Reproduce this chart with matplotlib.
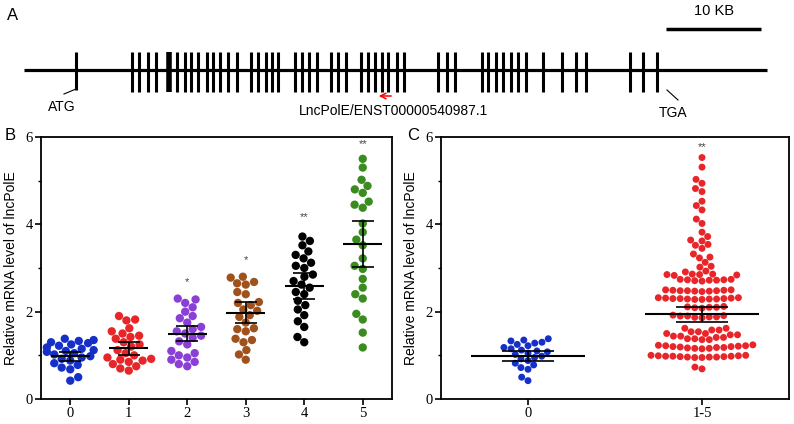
import numpy as np
import pandas as pd
import matplotlib
matplotlib.use('Agg')
import matplotlib.pyplot as plt
import seaborn as sns

# ---- Panel A: gene structure (positions on the diagram scale) ----
exon_pos = [132, 139, 148, 156, 177, 185, 191, 198, 207, 213, 220, 228, 237,
            251, 258, 266, 272, 278, 295, 302, 309, 317, 331, 338, 346,
            361, 368, 375, 382, 388, 397, 404, 438, 447, 455,
            482, 488, 496, 503, 511, 518, 526, 543, 562, 576, 586,
            630, 643, 657]
thick_exon = 169
atg_pos = 76
tga_pos = 667
gene_start, gene_end = 24, 767
scale_bar = (666, 761)

# ---- Panel B: expression by group ----
b_groups = ['0', '1', '2', '3', '4', '5']
g0 = [1.38, 1.35, 1.33, 1.30, 1.28, 1.25, 1.22, 1.18, 1.15, 1.12, 1.10, 1.08,
      1.05, 1.02, 0.98, 0.95, 0.92, 0.88, 0.82, 0.78, 0.72, 0.68, 0.50, 0.42]
g1 = [1.90, 1.82, 1.80, 1.62, 1.55, 1.50, 1.45, 1.42, 1.38, 1.30, 1.25, 1.20,
      1.12, 1.05, 1.00, 0.95, 0.92, 0.90, 0.88, 0.85, 0.80, 0.75, 0.70, 0.65]
g2 = [2.30, 2.28, 2.20, 2.10, 2.00, 1.90, 1.85, 1.75, 1.65, 1.60, 1.55, 1.50,
      1.45, 1.40, 1.32, 1.25, 1.10, 1.05, 1.00, 0.95, 0.90, 0.85, 0.80, 0.75]
g3 = [2.80, 2.78, 2.68, 2.65, 2.62, 2.45, 2.40, 2.22, 2.20, 2.15, 2.05, 2.02,
      1.92, 1.88, 1.75, 1.62, 1.60, 1.55, 1.38, 1.35, 1.30, 1.12, 1.02, 0.90]
g4 = [3.72, 3.62, 3.52, 3.38, 3.30, 3.22, 3.12, 3.05, 3.00, 2.85, 2.80, 2.70,
      2.62, 2.55, 2.45, 2.40, 2.25, 2.15, 2.05, 1.92, 1.78, 1.65, 1.42, 1.30]
g5 = [5.50, 5.30, 5.02, 4.88, 4.80, 4.72, 4.52, 4.45, 4.38, 4.02, 3.82, 3.65,
      3.52, 3.22, 3.05, 2.98, 2.75, 2.55, 2.40, 2.30, 1.95, 1.82, 1.52, 1.18]
b_means = [0.98, 1.16, 1.50, 1.98, 2.59, 3.55]
b_err = [0.10, 0.15, 0.18, 0.23, 0.30, 0.53]
b_stars = ['', '', '*', '*', '**', '**']
b_star_y = [0, 0, 2.68, 3.17, 4.17, 5.84]
b_colors = ['#1530c8', '#e8262a', '#8a3fd6', '#a0521d', '#000000', '#3a8c1f']

# ---- Panel C: 0 vs 1-5 ----
c_groups = ['0', '1-5']
c_high = [5.53, 5.31, 5.03, 4.94, 4.82, 4.75, 4.53, 4.43, 4.33, 4.12, 4.02, 3.82,
          3.72, 3.64, 3.62, 3.54, 3.52, 3.45, 3.32, 3.25, 3.23, 3.13, 3.04, 3.02,
          2.93, 2.91, 2.86, 2.85, 2.85, 2.84, 2.86, 2.83,
          2.74, 2.73, 2.72, 2.72, 2.71, 2.73, 2.74, 2.70,
          2.50, 2.49, 2.48, 2.48, 2.47, 2.47, 2.48, 2.49, 2.50, 2.46,
          2.32, 2.31, 2.30, 2.29, 2.29, 2.28, 2.28, 2.29, 2.30, 2.31, 2.32, 2.30,
          2.12, 2.10, 2.09, 2.10, 2.11, 2.08,
          1.92, 1.90, 1.88, 1.87, 1.88, 1.90, 1.91, 1.86,
          1.62, 1.58, 1.54, 1.50, 1.47, 1.44, 1.41, 1.38, 1.36,
          1.36, 1.38, 1.41, 1.44, 1.47, 1.50, 1.54, 1.58, 1.62,
          1.24, 1.23, 1.22, 1.21, 1.20, 1.19, 1.18, 1.17, 1.16, 1.15, 1.16, 1.18, 1.20, 1.22,
          1.00, 0.99, 0.98, 0.97, 0.96, 0.95, 0.95, 0.96, 0.97, 0.98, 0.99, 1.00, 0.98, 0.96,
          0.73, 0.69]
c_means = [0.98, 1.94]
c_err = [0.12, 0.17]
c_stars = ['', '**']
c_star_y = [0, 5.78]
c_colors = ['#1530c8', '#e8262a']

sans = 'Liberation Sans'
serif = 'Liberation Serif'

fig = plt.figure(figsize=(7.94, 4.24), dpi=100)

# overlay in pixel units for panel A and panel letters
ov = fig.add_axes([0, 0, 1, 1])
ov.set_xlim(0, 794)
ov.set_ylim(424, 0)
ov.axis('off')

ov.plot([gene_start, gene_end], [69.5, 69.5], color='black', lw=2.3, solid_capstyle='butt')
ov.vlines(exon_pos, 52, 92, color='black', lw=2.2)
ov.vlines(thick_exon, 52, 92, color='black', lw=4)
ov.vlines(atg_pos, 52, 90, color='black', lw=2.2)
ov.plot([atg_pos, atg_pos - 12], [89, 94], color='black', lw=0.8)
ov.text(atg_pos - 14, 107, 'ATG', ha='center', va='center', fontsize=10, family=sans)
ov.plot([tga_pos, tga_pos + 11], [90, 100], color='black', lw=0.8)
ov.text(tga_pos + 6, 113, 'TGA', ha='center', va='center', fontsize=10, family=sans)
ov.plot(scale_bar, [29, 29], color='black', lw=2.5, solid_capstyle='butt')
ov.text(np.mean(scale_bar), 11, '10 KB', ha='center', va='center', fontsize=10.5, family=sans)
ov.annotate('', xy=(376, 96), xytext=(394, 96),
            arrowprops=dict(arrowstyle='->', color='red', lw=1.1))
ov.text(393, 111, 'LncPolE/ENST00000540987.1', ha='center', va='center',
        fontsize=10, family=sans)
ov.text(13, 15, 'A', ha='center', va='center', fontsize=12, family=sans)
ov.text(10, 135, 'B', ha='center', va='center', fontsize=12, family=sans)
ov.text(413, 135, 'C', ha='center', va='center', fontsize=12, family=sans)


def style_axes(ax, xlabels):
    ax.set_ylim(0, 6)
    ax.set_yticks([0, 2, 4, 6])
    ax.set_yticks([1, 3, 5], minor=True)
    ax.set_xlim(-0.5, len(xlabels) - 0.5)
    ax.set_xticks(range(len(xlabels)))
    ax.set_xticklabels(xlabels)
    ax.set_xlabel('')
    ax.set_ylabel('Relative mRNA level of lncPolE', fontsize=10, family=sans)
    ax.yaxis.set_label_coords(-0.065, 0.5)
    for s in ax.spines.values():
        s.set_linewidth(1.3)
    ax.tick_params(axis='both', which='major', direction='out', length=4, width=1.2, pad=2)
    ax.tick_params(axis='y', which='minor', direction='out', length=2.5, width=1.0)
    for lab in ax.get_xticklabels() + ax.get_yticklabels():
        lab.set_family(serif)
        lab.set_fontsize(10.5)


def draw_stats(ax, means, errs, stars, star_y, half, cap):
    for i, (m, e) in enumerate(zip(means, errs)):
        ax.hlines(m, i - half, i + half, color='black', lw=1.5, zorder=5)
        ax.vlines(i, m - e, m + e, color='black', lw=1.2, zorder=5)
        ax.hlines([m - e, m + e], i - cap, i + cap, color='black', lw=1.2, zorder=5)
        if stars[i]:
            ax.text(i, star_y[i], stars[i], ha='center', va='center',
                    fontsize=8, color='#444444', family=sans)


# ---- Panel B ----
ax_b = fig.add_axes([41 / 794, 25 / 424, 351 / 794, 262 / 424])
ax_b.set_facecolor('none')
b_vals = [g0, g1, g2, g3, g4, g5]
df_b = pd.DataFrame({'group': np.repeat(b_groups, [len(v) for v in b_vals]),
                     'value': np.concatenate(b_vals)})
sns.swarmplot(data=df_b, x='group', y='value', hue='group', palette=b_colors,
              order=b_groups, size=6, legend=False, ax=ax_b, linewidth=0, zorder=3)
draw_stats(ax_b, b_means, b_err, b_stars, b_star_y, 0.33, 0.19)
style_axes(ax_b, b_groups)

# ---- Panel C ----
ax_c = fig.add_axes([441 / 794, 25 / 424, 348 / 794, 262 / 424])
ax_c.set_facecolor('none')
c_vals = [g0, c_high]
df_c = pd.DataFrame({'group': np.repeat(c_groups, [len(v) for v in c_vals]),
                     'value': np.concatenate(c_vals)})
sns.swarmplot(data=df_c, x='group', y='value', hue='group', palette=c_colors,
              order=c_groups, size=5, legend=False, ax=ax_c, linewidth=0, zorder=3)
draw_stats(ax_c, c_means, c_err, c_stars, c_star_y, 0.33, 0.15)
style_axes(ax_c, c_groups)

fig.savefig('out.png', dpi=100)
